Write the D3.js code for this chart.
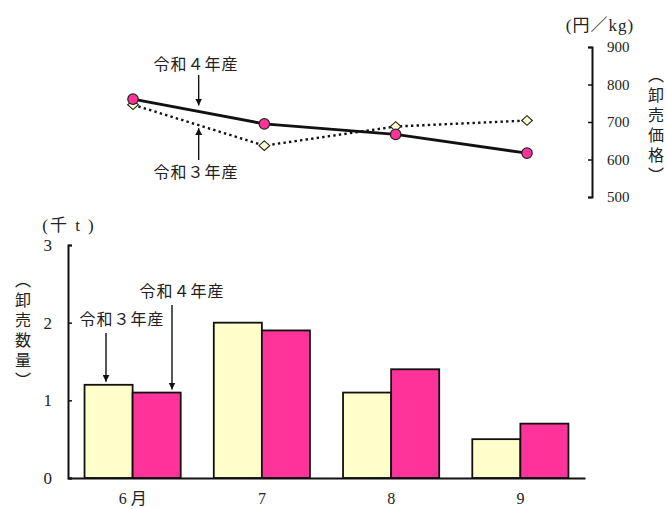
<!DOCTYPE html>
<html lang="ja">
<head>
<meta charset="utf-8">
<script src="https://cdn.jsdelivr.net/npm/d3@7"></script>
<style>
  html, body { margin: 0; padding: 0; background: #fff; }
  svg { display: block; }
  text { font-family: "Liberation Serif", "Noto Sans CJK JP", serif; fill: #222; }
  .jp { font-family: "Noto Sans CJK JP", sans-serif; }
  .vertical { font-family: "Noto Sans CJK JP", sans-serif; writing-mode: vertical-rl; text-orientation: upright; }
</style>
</head>
<body>
<div id="chart"></div>
<script>
// 月別の卸売数量（千t）と卸売価格（円/kg）
const months = ["6 月", "7", "8", "9"];
const seriesNames = ["令和３年産", "令和４年産"];
const volumeR3 = [1.2, 2.0, 1.1, 0.5];
const volumeR4 = [1.1, 1.9, 1.4, 0.7];
const priceR3 = [746, 637, 688, 704];
const priceR4 = [761, 695, 667, 617];
const volumeTicks = [0, 1, 2, 3];
const priceTicks = [500, 600, 700, 800, 900];

const W = 667, H = 509;
const yellow = "#FFFFCC", pink = "#FF3399";
const serif = "'Liberation Serif', 'Noto Sans CJK JP', serif";

const svg = d3.select("#chart").append("svg")
  .attr("width", W).attr("height", H);

// ---------- 卸売数量（棒グラフ） ----------
const x0 = d3.scaleBand().domain(months).range([68, 585])
  .paddingInner(0.256).paddingOuter(0.128);
const x1 = d3.scaleBand().domain(seriesNames).range([0, x0.bandwidth()]);
const yVol = d3.scaleLinear().domain([0, 3]).range([478, 245]);

const barRows = months.map((m, i) => ({
  month: m,
  values: [
    { name: seriesNames[0], v: volumeR3[i], fill: yellow },
    { name: seriesNames[1], v: volumeR4[i], fill: pink }
  ]
}));

const groups = svg.append("g").selectAll("g").data(barRows).join("g")
  .attr("transform", d => `translate(${x0(d.month)},0)`);
groups.selectAll("rect").data(d => d.values).join("rect")
  .attr("x", d => x1(d.name))
  .attr("y", d => yVol(d.v))
  .attr("width", x1.bandwidth())
  .attr("height", d => yVol(0) - yVol(d.v))
  .attr("fill", d => d.fill)
  .attr("stroke", "#111")
  .attr("stroke-width", 1.8);

// 縦軸（左）
const yAxisL = svg.append("g").attr("transform", "translate(68,0)")
  .call(d3.axisLeft(yVol).tickValues(volumeTicks).tickFormat(d3.format("d"))
    .tickSizeInner(-4).tickSizeOuter(-4).tickPadding(16));
yAxisL.select(".domain").attr("stroke", "#111").attr("stroke-width", 2);
yAxisL.selectAll(".tick line").attr("stroke", "#111").attr("stroke-width", 1.5);
yAxisL.selectAll(".tick text").style("font-family", serif)
  .style("font-size", "17px").style("fill", "#222");

// 横軸
const xAxis = svg.append("g").attr("transform", `translate(0,${yVol(0)})`)
  .call(d3.axisBottom(x0).tickSize(0).tickPadding(15));
xAxis.select(".domain").attr("stroke", "#111").attr("stroke-width", 2);
xAxis.selectAll(".tick text").style("font-family", serif)
  .style("font-size", "16px").style("fill", "#222");

svg.append("text").attr("x", 69).attr("y", 225)
  .attr("text-anchor", "middle").attr("dominant-baseline", "central")
  .style("font-family", serif).style("font-size", "17px")
  .attr("letter-spacing", 2).text("(千 t )");

// ---------- 卸売価格（折れ線） ----------
const xPt = d3.scalePoint().domain(months).range([133, 527]);
const yPrice = d3.scaleLinear().domain([500, 900]).range([197, 47]);

const yAxisR = svg.append("g").attr("transform", "translate(592,0)")
  .call(d3.axisRight(yPrice).tickValues(priceTicks)
    .tickSizeInner(-4).tickSizeOuter(-4).tickPadding(15));
yAxisR.select(".domain").attr("stroke", "#111").attr("stroke-width", 2);
yAxisR.selectAll(".tick line").attr("stroke", "#111").attr("stroke-width", 1.5);
yAxisR.selectAll(".tick text").style("font-family", serif)
  .style("font-size", "15px").style("fill", "#222");

svg.append("text").attr("x", 600).attr("y", 25)
  .attr("text-anchor", "middle").attr("dominant-baseline", "central")
  .style("font-family", serif).style("font-size", "17px")
  .attr("letter-spacing", 1).text("(円／kg)");

const line = d3.line().x((d, i) => xPt(months[i])).y(d => yPrice(d));

svg.append("path").datum(priceR3)
  .attr("d", line).attr("fill", "none")
  .attr("stroke", "#111").attr("stroke-width", 2.4)
  .attr("stroke-dasharray", "2.4,3.2");
svg.append("path").datum(priceR4)
  .attr("d", line).attr("fill", "none")
  .attr("stroke", "#111").attr("stroke-width", 3);

const diamond = {
  draw(ctx, size) {
    const r = Math.sqrt(size) / 2;
    ctx.moveTo(0, -r * 0.9);
    ctx.lineTo(r, 0);
    ctx.lineTo(0, r * 0.9);
    ctx.lineTo(-r, 0);
    ctx.closePath();
  }
};
svg.append("g").selectAll("path").data(priceR3).join("path")
  .attr("transform", (d, i) => `translate(${xPt(months[i])},${yPrice(d)})`)
  .attr("d", d3.symbol(diamond, 115))
  .attr("fill", yellow).attr("stroke", "#222").attr("stroke-width", 1.1);
svg.append("g").selectAll("circle").data(priceR4).join("circle")
  .attr("cx", (d, i) => xPt(months[i]))
  .attr("cy", d => yPrice(d))
  .attr("r", 5.2)
  .attr("fill", pink).attr("stroke", "#222").attr("stroke-width", 1.2);

// ---------- 縦書きの軸タイトル ----------
function verticalLabel(label, cx, top) {
  svg.append("text").attr("class", "vertical")
    .attr("x", cx).attr("y", top)
    .attr("font-size", 16).attr("letter-spacing", 4).text(label);
}
verticalLabel("（卸売価格）", 656, 66.5);
verticalLabel("（卸売数量）", 23, 271.5);

// ---------- 系列の注記と矢印 ----------
const defs = svg.append("defs");
defs.append("marker").attr("id", "head")
  .attr("viewBox", "0 0 10 10").attr("refX", 10).attr("refY", 5)
  .attr("markerWidth", 7).attr("markerHeight", 7)
  .attr("markerUnits", "userSpaceOnUse").attr("orient", "auto")
  .append("path").attr("d", "M0,0L10,5L0,10Z").attr("fill", "#111");

function note(label, tx, ty, ax, ay1, ay2) {
  svg.append("text").attr("class", "jp")
    .attr("x", tx).attr("y", ty)
    .attr("text-anchor", "middle").attr("dominant-baseline", "central")
    .attr("font-size", 16).attr("letter-spacing", 1).text(label);
  svg.append("line")
    .attr("x1", ax).attr("x2", ax).attr("y1", ay1).attr("y2", ay2)
    .attr("stroke", "#111").attr("stroke-width", 1.4)
    .attr("marker-end", "url(#head)");
}

// 価格グラフ：最初の2点の中間を指す
const midX = (xPt(months[0]) + xPt(months[1])) / 2;
note(seriesNames[1], 196, 63, midX, 75, yPrice((priceR4[0] + priceR4[1]) / 2) - 6);
note(seriesNames[0], 196, 171, midX, 160, yPrice((priceR3[0] + priceR3[1]) / 2) + 3);

// 数量グラフ：6月の棒を指す
note(seriesNames[0], 122, 318, 106, 333, yVol(volumeR3[0]) - 3);
note(seriesNames[1], 182, 290, 172, 305, yVol(volumeR4[0]) - 3);
</script>
</body>
</html>
